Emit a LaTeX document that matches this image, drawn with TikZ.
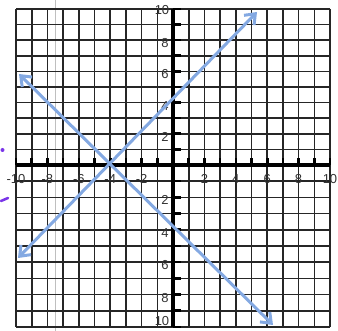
\documentclass[tikz,border=0pt]{standalone}
\usepackage{fontspec}
\setmainfont{Liberation Sans}
\usetikzlibrary{arrows.meta}
\definecolor{lineblue}{HTML}{84A9E2}
\definecolor{pen}{HTML}{7A35E8}
\begin{document}
\begin{tikzpicture}[x=1pt,y=-1pt,
  gridline/.style={draw=black!85, line width=1.6pt},
  axisline/.style={draw=black, line width=3.5pt},
  tickmark/.style={draw=black, line width=2.6pt},
  numlabel/.style={font=\fontsize{13}{13}\selectfont, inner sep=0pt, text=black!80},
  graphline/.style={draw=lineblue, line width=3pt, {Straight Barb[length=9pt,width=14pt]}-{Straight Barb[length=9pt,width=14pt]}},
  ]
\useasboundingbox (0,0) rectangle (338,331);
\fill[white] (0,0) rectangle (338,331);
% faint scan line
\draw[black!25, line width=1pt] (55,0) -- (55,331);
% grid
\foreach \k in {-10,...,10} { \draw[gridline] ({173+15.7*\k},9) -- ({173+15.7*\k},327); }
\foreach \k in {1,...,10} {
  \draw[gridline] (16,{165-15.6*\k}) -- (330,{165-15.6*\k});
  \draw[gridline] (16,{165+16.2*\k}) -- (330,{165+16.2*\k});
}
% axes
\draw[axisline] (16,165) -- (330,165);
\draw[axisline] (173,9) -- (173,327);
\foreach \k in {-10,...,-1,1,2,...,10} { \draw[tickmark] ({173+15.7*\k},165) -- ({173+15.7*\k},158.5); }
\foreach \k in {1,...,10} {
  \draw[tickmark] (173,{165-15.6*\k}) -- (181,{165-15.6*\k});
  \draw[tickmark] (173,{165+16.2*\k}) -- (181,{165+16.2*\k});
}
% x labels
\foreach \k/\n in {-10/a,-8/b,-6/c,-4/d,-2/e,2/f,4/g,6/h,8/i,10/j} {
  \node[numlabel] (xl\n) at ({173+15.7*\k},179) {\k};
}
% y labels
\foreach \k in {2,4,6,8} {
  \node[numlabel] (ylp\k) at (165,{165-15.6*\k+3}) {\k};
  \node[numlabel] (yln\k) at (165,{165+16.2*\k+3}) {\k};
}
\node[numlabel] (ylp10) at (162,10) {10};
\node[numlabel] (yln10) at (162,321) {10};
% lines
\coordinate (p1) at (18,258);
\coordinate (p2) at (257,12);
\coordinate (q1) at (19,74);
\coordinate (q2) at (273,325);
\draw[graphline] (p1) -- (p2);
\draw[graphline] (q1) -- (q2);
% pen marks
\fill[pen] (2.5,150) circle (2pt);
\draw[pen, line width=2.5pt, line cap=round] (1,201) -- (8,198);
\end{tikzpicture}
\end{document}
